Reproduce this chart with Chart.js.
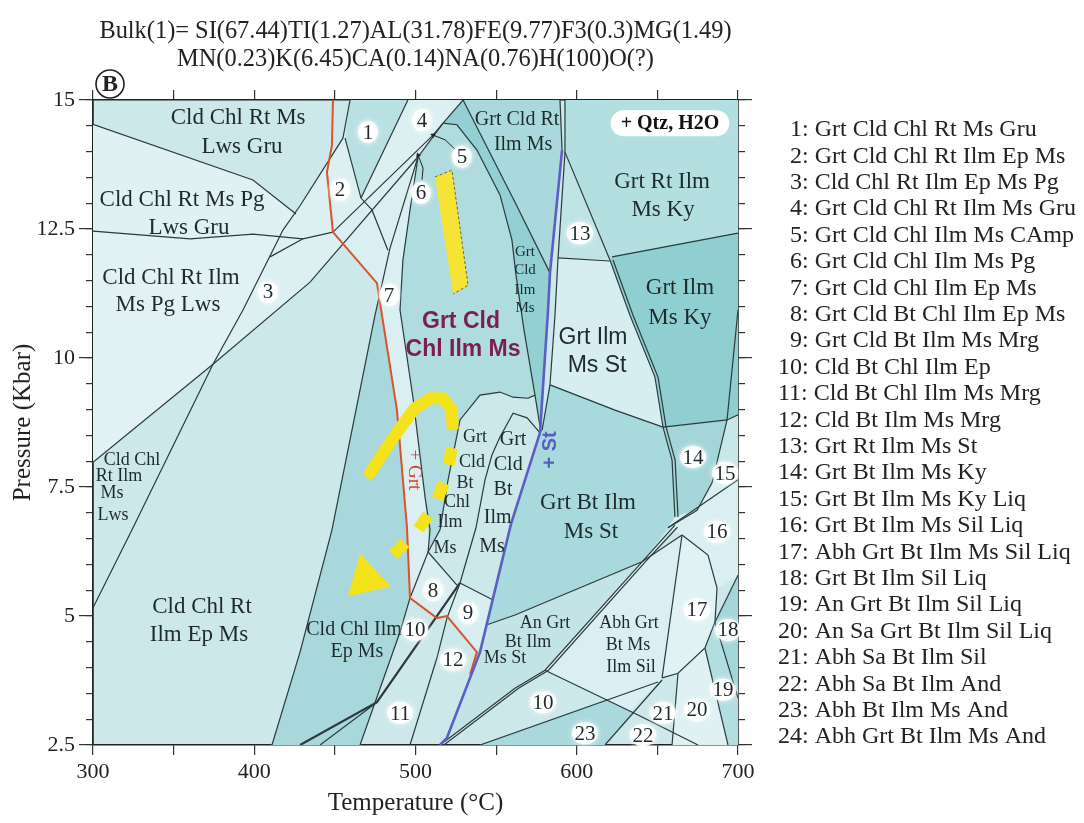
<!DOCTYPE html>
<html>
<head>
<meta charset="utf-8">
<script src="https://cdn.jsdelivr.net/npm/chart.js@4.4.1/dist/chart.umd.min.js"></script>
<style>
  html, body { margin: 0; padding: 0; background: #fff; }
  #wrap { width: 1084px; height: 823px; position: relative; }
</style>
</head>
<body>
<div id="wrap"><canvas id="pseudo"></canvas></div>
<script>
const SERIF = '"Liberation Serif", "Times New Roman", serif';
const SANS = '"Liberation Sans", Arial, sans-serif';

// axes
const tempMin = 300, tempMax = 700;
const presMin = 2.5, presMax = 15;
const tempLabels = [300, 400, 500, 600, 700];
const presLabels = [2.5, 5, 7.5, 10, 12.5, 15];

const titleLines = [
  'Bulk(1)= SI(67.44)TI(1.27)AL(31.78)FE(9.77)F3(0.3)MG(1.49)',
  'MN(0.23)K(6.45)CA(0.14)NA(0.76)H(100)O(?)'
];

const legendItems = [
  '1: Grt Cld Chl Rt Ms Gru', '2: Grt Cld Chl Rt Ilm Ep Ms', '3: Cld Chl Rt Ilm Ep Ms Pg',
  '4: Grt Cld Chl Rt Ilm Ms Gru', '5: Grt Cld Chl Ilm Ms CAmp', '6: Grt Cld Chl Ilm Ms Pg',
  '7: Grt Cld Chl Ilm Ep Ms', '8: Grt Cld Bt Chl Ilm Ep Ms', '9: Grt Cld Bt Ilm Ms Mrg',
  '10: Cld Bt Chl Ilm Ep', '11: Cld Bt Chl Ilm Ms Mrg', '12: Cld Bt Ilm Ms Mrg',
  '13: Grt Rt Ilm Ms St', '14: Grt Bt Ilm Ms Ky', '15: Grt Bt Ilm Ms Ky Liq',
  '16: Grt Bt Ilm Ms Sil Liq', '17: Abh Grt Bt Ilm Ms Sil Liq', '18: Grt Bt Ilm Sil Liq',
  '19: An Grt Bt Ilm Sil Liq', '20: An Sa Grt Bt Ilm Sil Liq', '21: Abh Sa Bt Ilm Sil',
  '22: Abh Sa Bt Ilm And', '23: Abh Bt Ilm Ms And', '24: Abh Grt Bt Ilm Ms And'
];

// ---- stability fields, [T (°C), P (kbar)] ----
const fieldLwsGru = [[300,14.53],[399.2,13.45],[425.9,12.79],[416.0,12.36],[399.2,12.40],[360.2,12.31],[300,12.46]];
const fieldPgLws = [[300,12.46],[360.2,12.31],[399.2,12.40],[416.0,12.36],[393.0,10.93],[374.4,9.88],[300,7.98]];
const fieldUpper = [[374.4,9.88],[393.0,10.93],[417.8,12.48],[428.4,12.95],[455.0,14.26],[459.4,15],[529.5,15],[517.1,14.55],[501.6,13.90],[434.6,11.47]];
const field1 = [[459.4,15],[495.3,15],[466.2,13.10],[456.3,14.26]];
const field7 = [[448.8,12.44],[476.1,11.45],[479.2,10.83],[488.5,8.99],[494.7,6.72],[496.6,5.35],[507.8,6.24],[509.0,6.32],[505.9,7.31],[498.4,9.24],[490.4,10.93],[492.2,11.90],[496.6,12.87],[501.6,13.90]];
const fieldEpMs = [[478.0,11.36],[479.2,10.83],[488.5,8.99],[494.7,6.72],[496.6,5.35],[490.4,4.69],[465.6,2.5],[411.0,2.5],[428.4,4.30],[448.2,6.67],[474.9,10.83]];
const fieldGrtCld = [[501.6,13.90],[517.1,14.55],[525.7,14.52],[538.1,14.03],[552.4,13.16],[559.8,12.29],[562.3,11.61],[567.3,10.54],[574.1,9.28],[569.8,9.22],[560.5,9.24],[552.4,9.34],[540.0,9.28],[527.6,8.80],[520.2,7.64],[515.2,6.67],[509.0,6.32],[505.9,7.31],[498.4,9.24],[490.4,10.93],[492.2,11.90],[496.6,12.87]];
const fieldCldRt = [[529.5,15],[589.6,15],[590.9,14.03],[583.4,11.65],[561.7,13.02]];
const fieldSliver = [[529.5,15],[561.7,13.02],[583.4,11.65],[582.2,10.93],[577.8,8.57],[574.1,9.28],[567.3,10.54],[562.3,11.61],[559.8,12.29],[552.4,13.16],[538.1,14.03],[525.7,14.52],[517.1,14.55]];
const field8 = [[507.8,6.24],[525.7,5.60],[519.5,5.00],[513.3,4.96],[496.6,5.35]];
const field9 = [[527.6,5.64],[548.1,5.31],[544.3,4.83],[538.1,4.30],[519.5,5.00]];
const fieldRtKy = [[592.7,15],[700,15],[700,12.42],[621.9,11.96],[620.6,11.90],[592.7,13.99]];
const field13 = [[592.7,13.99],[620.6,11.90],[588.4,11.94]];
const fieldIlmKy = [[621.9,11.96],[700,12.42],[700,8.90],[693.2,8.80],[653.5,8.66],[648.5,9.63],[633.0,10.83],[620.6,11.90]];
const fieldIlmSt = [[588.4,11.94],[620.6,11.90],[633.0,10.83],[648.5,9.63],[653.5,8.66],[623.7,8.99],[583.4,9.48],[586.5,10.83]];
const fieldBtSt = [[583.4,9.48],[623.7,8.99],[653.5,8.66],[659.1,8.02],[660.9,6.92],[656.6,6.71],[640.5,6.05],[561.7,5.02],[544.3,4.83],[559.2,6.78],[577.2,8.55],[578.5,8.60]];
const field14 = [[653.5,8.66],[693.2,8.80],[683.9,7.58],[674.6,7.05],[660.9,6.92],[659.1,8.02]];
const field15 = [[693.2,8.80],[700,8.90],[700,7.83],[683.9,7.58]];
const field16 = [[660.9,6.92],[674.6,7.05],[683.9,7.58],[700,7.83],[700,5.79],[687.0,5.54],[681.4,6.18],[665.3,6.57],[656.6,6.71]];
const fieldAnSt = [[544.3,4.83],[561.7,5.02],[640.5,6.05],[580.3,3.95],[561.7,3.60],[519.5,2.64],[540.0,4.30]];
const fieldAbhSil = [[580.3,3.95],[640.5,6.05],[665.3,6.57],[652.9,3.80],[633.0,3.16]];
const field17 = [[665.3,6.57],[681.4,6.18],[687.0,5.54],[685.7,4.88],[679.5,4.38],[662.8,3.89],[652.9,3.80]];
const field18 = [[685.7,4.88],[700,5.79],[700,3.41]];
const field19 = [[679.5,4.38],[685.7,4.88],[700,3.41],[700,2.5],[693.8,2.5]];
const field20 = [[662.8,3.89],[679.5,4.38],[693.8,2.5],[659.1,2.5]];
const field23 = [[540.0,2.5],[618.1,3.37],[635.5,3.12],[617.5,2.5]];

// ---- reaction lines ----
const lineL1 = [[300,14.53],[399.2,13.45],[425.9,12.79]];
const lineL2 = [[300,12.46],[360.2,12.31],[399.2,12.40],[430.2,12.31],[448.8,12.44]];
const lineL3 = [[300,5.16],[324.2,6.67],[374.4,9.88],[393.0,10.93],[417.8,12.48],[428.4,12.95],[455.0,14.26],[459.4,15]];
const lineL4 = [[300,7.98],[374.4,9.88],[434.6,11.47],[501.6,13.90],[517.1,14.55]];
const lineF1 = [[495.3,15],[466.2,13.10]];
const lineE = [[456.3,14.26],[466.2,13.10],[473.0,12.87],[482.9,12.09]];
const lineTri = [[409.8,11.96],[430.2,12.31]];
const lineB = [[448.8,12.44],[510.9,14.32],[517.1,14.55]];
const lineTopG = [[529.5,15],[517.1,14.55]];
const lineArc = [[517.1,14.55],[525.7,14.52],[538.1,14.03],[552.4,13.16],[559.8,12.29],[562.3,11.61],[567.3,10.54],[574.1,9.28],[577.8,8.57]];
const lineG = [[529.5,15],[561.7,13.02],[583.4,11.65]];
const lineStripL = [[501.6,13.90],[484.2,12.13],[474.9,10.83],[448.2,6.67],[428.4,4.30],[411.0,2.5]];
const lineBigL = [[501.6,13.90],[496.6,12.87],[492.2,11.90],[490.4,10.93],[498.4,9.24],[505.9,7.31],[509.0,6.67],[507.8,6.24]];
const lineOuterLoop = [[507.8,6.24],[515.2,6.67],[520.2,7.64],[527.6,8.80],[540.0,9.28],[552.4,9.34],[560.5,9.24],[569.8,9.22],[574.1,9.28]];
const lineInnerLoop = [[527.6,5.64],[537.5,6.71],[543.1,7.64],[547.4,8.12],[552.4,8.47],[560.5,8.93],[569.2,8.84],[577.2,8.55]];
const line8Top = [[507.8,6.24],[525.7,5.60]];
const line9Top = [[527.6,5.64],[548.1,5.31]];
const lineBtIn = [[507.8,6.24],[496.6,5.35],[490.4,4.69],[465.6,2.5]];
const line12L = [[527.6,5.64],[519.5,4.96],[513.3,4.19],[496.6,2.5]];
const lineLow = [[476.1,3.33],[440.8,2.5]];
const lineThick = [[527.6,5.64],[476.1,3.33],[428.4,2.5]];
const lineTopA = [[589.6,15],[590.9,14.03]];
const lineTopB = [[592.7,15],[592.7,13.99],[588.4,11.94],[586.5,10.83],[583.4,9.48],[578.5,8.60]];
const line13R = [[592.7,13.99],[620.6,11.90]];
const line13B = [[588.4,11.94],[620.6,11.88]];
const lineRtKyB = [[621.9,11.96],[700,12.42]];
const lineCurveA = [[620.6,11.90],[633.0,10.83],[648.5,9.63],[653.5,8.66],[659.1,8.02],[660.9,6.92]];
const lineCurveB = [[622.5,11.90],[634.9,10.83],[650.4,9.63],[655.4,8.66],[661.0,8.02],[662.8,6.92]];
const lineStB = [[583.4,9.48],[623.7,8.99],[653.5,8.66]];
const lineKyB = [[653.5,8.66],[693.2,8.80],[700,8.90]];
const lineR1 = [[700,10.93],[693.2,8.80],[683.9,7.58],[674.6,7.05],[656.6,6.71]];
const lineR2 = [[656.6,6.71],[700,7.64]];
const lineU = [[544.3,4.83],[561.7,5.02],[640.5,6.05],[665.3,6.57]];
const lineDA = [[515.2,2.5],[561.7,3.60],[580.3,3.95],[640.5,6.05],[660.9,6.76]];
const lineDB = [[517.6,2.5],[563.9,3.60],[582.5,3.95],[642.5,6.05],[662.4,6.72]];
const line17L = [[665.3,6.57],[652.9,3.80]];
const line17C = [[665.3,6.57],[681.4,6.18],[687.0,5.54],[685.7,4.88],[679.5,4.38],[662.8,3.89],[652.9,3.80]];
const line20L = [[662.8,3.89],[659.1,2.5]];
const line19L = [[679.5,4.38],[693.8,2.5]];
const line18A = [[685.7,4.88],[700,5.79]];
const line18B = [[685.7,4.88],[700,3.41]];
const lineN2 = [[580.3,3.95],[638.0,3.08],[675.2,2.5]];
const lineN1 = [[540.0,2.5],[650.4,3.72]];
const lineN3 = [[617.5,2.5],[652.9,3.76]];
const arrow5 = [[525.1,14.03],[518.3,14.23],[510.9,14.32]];
const arrow6 = [[504.0,13.45],[504.7,13.68],[501.6,13.93]];

const grtIn = [[448.8,15],[448.2,14.13],[445.1,13.60],[448.8,12.44],[476.1,11.45],[479.2,10.83],[488.5,8.99],[494.7,6.72],[496.6,5.35],[513.3,4.96],[519.5,5.00],[538.1,4.30],[533.8,3.86]];
const stIn = [[590.9,14.03],[583.4,11.65],[582.2,10.93],[577.2,8.55],[559.2,6.78],[540.0,4.30],[519.5,2.64],[515.2,2.5]];

// yellow P-T path and box
const ptBox = [[512.1,13.51],[522.6,13.64],[532.6,11.41],[523.3,11.24]];
const pathSolid = [[471.8,7.77],[481.1,8.22],[490.4,8.64],[499.7,9.03],[509.0,9.22],[517.1,9.22],[522.6,8.99]];
const pathDashed = [[522.6,8.95],[523.3,8.41],[519.5,7.73],[512.1,7.15],[501.6,6.67],[489.1,6.28],[479.2,5.99]];
const pathHead = [[465.6,6.20],[484.2,5.58],[458.1,5.39]];

// ---- field labels [text, T, P] ----
const namesLarge = [
  ['Cld Chl Rt Ms', 390.0, 14.65], ['Lws Gru', 392.4, 14.09],
  ['Cld Chl Rt Ms Pg', 355.2, 13.06], ['Lws Gru', 359.5, 12.52],
  ['Cld Chl Rt Ilm', 348.4, 11.55], ['Ms Pg Lws', 346.5, 11.03],
  ['Cld Chl Rt', 367.6, 5.17], ['Ilm Ep Ms', 365.7, 4.63],
  ['Grt Rt Ilm', 652.9, 13.41], ['Ms Ky', 653.5, 12.87],
  ['Grt Ilm', 664.0, 11.36], ['Ms Ky', 664.0, 10.78],
  ['Grt Bt Ilm', 607.0, 7.19], ['Ms St', 608.8, 6.63]
];
const namesMedium = [
  ['Grt Cld Rt', 563.0, 14.61], ['Ilm Ms', 566.7, 14.13],
  ['Cld Chl Ilm', 461.9, 4.73], ['Ep Ms', 463.7, 4.30],
  ['Grt', 560.5, 8.41], ['Cld', 557.5, 7.93], ['Bt', 554.3, 7.44], ['Ilm', 551.0, 6.90], ['Ms', 547.4, 6.34]
];
const namesSmall = [
  ['Cld Chl', 324.2, 8.02], ['Rt Ilm', 316.1, 7.71], ['Ms', 311.8, 7.38], ['Lws', 312.4, 6.96],
  ['An Grt', 580.3, 4.86], ['Bt Ilm', 569.8, 4.50], ['Ms St', 555.5, 4.19],
  ['Abh Grt', 632.4, 4.86], ['Bt Ms', 631.8, 4.44], ['Ilm Sil', 633.6, 4.01],
  ['Grt', 536.9, 8.47], ['Cld', 535.0, 7.98], ['Bt', 530.7, 7.58], ['Chl', 525.7, 7.21], ['Ilm', 521.4, 6.82], ['Ms', 518.3, 6.32]
];
const namesTiny = [['Grt', 567.9, 12.05], ['Cld', 567.9, 11.71], ['Ilm', 567.9, 11.32], ['Ms', 567.9, 10.97]];
const namesSans = [['Grt Ilm', 610.1, 10.39], ['Ms St', 612.6, 9.86]];
const namesBold = [['Grt Cld', 528.2, 10.70], ['Chl Ilm Ms', 529.5, 10.17]];
const fieldNumbers = [
  ['1', 470.5, 14.38], ['2', 453.2, 13.26], ['3', 408.5, 11.28], ['4', 504.0, 14.61],
  ['5', 528.8, 13.90], ['6', 503.4, 13.20], ['7', 483.6, 11.22], ['8', 510.9, 5.50],
  ['9', 532.6, 5.06], ['10', 499.7, 4.73], ['10', 579.1, 3.33], ['11', 490.4, 3.12],
  ['12', 523.3, 4.15], ['13', 602.0, 12.42], ['14', 672.1, 8.08], ['15', 691.9, 7.77],
  ['16', 687.0, 6.63], ['17', 674.6, 5.12], ['18', 693.8, 4.73], ['19', 690.7, 3.57],
  ['20', 674.6, 3.18], ['21', 653.5, 3.12], ['22', 641.1, 2.69], ['23', 605.1, 2.73]
];
const noteQtz = ['+ Qtz, H2O', 657.8, 14.55];
const noteGrt = ['+ Grt', 499.1, 7.83];
const noteSt = ['+ St', 584.0, 8.22];

// ---- styling ----
const areaStyles = [
  [fieldLwsGru, '#dff1f3'], [fieldPgLws, '#e2f2f4'], [fieldUpper, '#dcf0f2'], [field1, '#b9e1e3'],
  [field7, '#d9eff1'], [fieldEpMs, '#a8d8db'], [fieldGrtCld, '#afdcdf'], [fieldCldRt, '#a9d9dc'],
  [fieldSliver, '#93d0d3'], [field8, '#d8eef0'], [field9, '#d8eef0'], [fieldRtKy, '#b3dfe1'],
  [field13, '#c0e4e6'], [fieldIlmKy, '#8fcfd2'], [fieldIlmSt, '#d7eef0'], [fieldBtSt, '#a8d9dc'],
  [field14, '#a4d6d9'], [field15, '#c8e7e9'], [field16, '#d9eff1'], [fieldAnSt, '#c3e4e6'],
  [fieldAbhSil, '#d9eff1'], [field17, '#e0f2f4'], [field18, '#a3d6d9'], [field19, '#b3dee1'],
  [field20, '#dff1f3'], [field23, '#a9d9dc']
];
const blackLines = [
  lineL1, lineL2, lineL3, lineL4, lineF1, lineE, lineTri, lineB, lineTopG, lineArc, lineG,
  lineStripL, lineBigL, lineOuterLoop, lineInnerLoop, line8Top, line9Top, lineBtIn, line12L,
  lineLow, lineTopA, lineTopB, line13R, line13B, lineRtKyB, lineCurveA, lineCurveB, lineStB,
  lineKyB, lineR1, lineR2, lineU, lineDA, lineDB, line17L, line17C, line20L, line19L,
  line18A, line18B, lineN2, lineN1, lineN3
];

const toXY = arr => arr.map(([x, y]) => ({ x, y }));
const datasets = [];
let seq = 0;
function addArea(points, color, extra) {
  datasets.push(Object.assign({
    data: toXY(points), showLine: true, fill: 'shape', backgroundColor: color,
    borderColor: color, borderWidth: 0.8, pointRadius: 0, order: 1000 - seq++
  }, extra || {}));
}
function addLine(points, color, width, extra) {
  datasets.push(Object.assign({
    data: toXY(points), showLine: true, fill: false, borderColor: color,
    borderWidth: width, pointRadius: 0, order: 1000 - seq++
  }, extra || {}));
}

areaStyles.forEach(([pts, c]) => addArea(pts, c));
addArea(ptBox, '#f6e434', { borderColor: '#6b6b3a', borderWidth: 1, borderDash: [3, 2] });
blackLines.forEach(pts => addLine(pts, '#2c3a3c', 1.2));
addLine(lineThick, '#2c3a3c', 2.2);
addLine(arrow5, '#222', 1, { pointRadius: [0, 0, 3], pointStyle: 'triangle', rotation: -70, pointBackgroundColor: '#222', pointBorderWidth: 0 });
addLine(arrow6, '#222', 1, { pointRadius: [0, 0, 3], pointStyle: 'triangle', rotation: -20, pointBackgroundColor: '#222', pointBorderWidth: 0 });
addLine(grtIn, '#d9532c', 2);
addLine(stIn, '#5b5fc4', 2.6);
addLine(pathSolid, '#f4e21a', 12, { borderCapStyle: 'round', borderJoinStyle: 'round' });
addLine(pathDashed, '#f4e21a', 12, { borderDash: [17, 19] });
addArea(pathHead, '#f4e21a');

// ---- plugins ----
const basePlugin = {
  id: 'base',
  beforeDraw(chart) {
    const { ctx, chartArea: a } = chart;
    ctx.save();
    ctx.fillStyle = '#fff';
    ctx.fillRect(0, 0, chart.width, chart.height);
    ctx.fillStyle = '#cde8ea';
    ctx.fillRect(a.left, a.top, a.right - a.left, a.bottom - a.top);
    ctx.restore();
  }
};

const textPlugin = {
  id: 'fieldText',
  afterDatasetsDraw(chart) {
    const { ctx, scales } = chart;
    const sx = v => scales.x.getPixelForValue(v);
    const sy = v => scales.y.getPixelForValue(v);
    const put = (list, font, color) => {
      ctx.font = font;
      ctx.fillStyle = color;
      list.forEach(([t, a, b]) => ctx.fillText(t, sx(a), sy(b)));
    };
    ctx.save();
    ctx.textAlign = 'center';
    ctx.textBaseline = 'middle';
    put(namesLarge, '23px ' + SERIF, '#1f2a2c');
    put(namesMedium, '20px ' + SERIF, '#1f2a2c');
    put(namesSmall, '18px ' + SERIF, '#1f2a2c');
    put(namesTiny, '15px ' + SERIF, '#1f2a2c');
    put(namesSans, '23px ' + SANS, '#1f2a2c');
    put(namesBold, 'bold 23px ' + SANS, '#7b1f4b');

    // numbered fields with white halo
    ctx.font = '21px ' + SERIF;
    fieldNumbers.forEach(([t, a, b]) => {
      const x = sx(a), y = sy(b);
      ctx.save();
      ctx.fillStyle = 'rgba(255,255,255,0.92)';
      ctx.shadowColor = '#fff';
      ctx.shadowBlur = 5;
      ctx.beginPath();
      ctx.ellipse(x, y, t.length > 1 ? 13 : 10, 11, 0, 0, Math.PI * 2);
      ctx.fill();
      ctx.restore();
      ctx.fillStyle = '#1f2a2c';
      ctx.fillText(t, x, y + 1);
    });

    // + Qtz, H2O pill
    ctx.font = 'bold 20px ' + SERIF;
    const qx = sx(noteQtz[1]), qy = sy(noteQtz[2]);
    const qw = ctx.measureText(noteQtz[0]).width + 20;
    ctx.fillStyle = '#fff';
    ctx.beginPath();
    ctx.roundRect(qx - qw / 2, qy - 13, qw, 26, 13);
    ctx.fill();
    ctx.fillStyle = '#111';
    ctx.fillText(noteQtz[0], qx, qy + 1);

    // + Grt (red, reading downwards)
    ctx.save();
    ctx.translate(sx(noteGrt[1]), sy(noteGrt[2]));
    ctx.rotate(Math.PI / 2);
    ctx.font = '19px ' + SERIF;
    ctx.fillStyle = '#d2452a';
    ctx.fillText(noteGrt[0], 0, 0);
    ctx.restore();

    // + St (blue, reading upwards)
    ctx.save();
    ctx.translate(sx(noteSt[1]), sy(noteSt[2]));
    ctx.rotate(-Math.PI / 2);
    ctx.font = 'bold 20px ' + SANS;
    ctx.fillStyle = '#5a5cc0';
    ctx.fillText(noteSt[0], 0, 0);
    ctx.restore();
    ctx.restore();
  },
  afterDraw(chart) {
    const { ctx, chartArea: a } = chart;
    ctx.save();
    ctx.fillStyle = '#222';
    ctx.textAlign = 'center';
    ctx.textBaseline = 'middle';
    ctx.font = '24.4px ' + SERIF;
    const cx = (a.left + a.right) / 2;
    ctx.fillText(titleLines[0], cx, 32);
    ctx.fillText(titleLines[1], cx, 60);

    // panel letter
    ctx.lineWidth = 1.6;
    ctx.strokeStyle = '#222';
    ctx.beginPath();
    ctx.arc(110, 84, 14, 0, Math.PI * 2);
    ctx.stroke();
    ctx.font = 'bold 24px ' + SERIF;
    ctx.fillText('B', 110, 85);

    // assemblage list
    ctx.textAlign = 'left';
    ctx.font = '24px ' + SERIF;
    legendItems.forEach((t, i) => {
      ctx.fillText(t, i < 9 ? 790 : 778, 130 + i * 26.4);
    });
    ctx.restore();
  }
};

const tickFont = { family: SERIF, size: 22 };
const gridBase = { drawOnChartArea: false, color: '#333', lineWidth: 1.2 };
const borderBase = { display: true, color: '#222', width: 1.5 };

new Chart(document.getElementById('pseudo'), {
  type: 'scatter',
  data: { datasets },
  options: {
    responsive: true,
    maintainAspectRatio: false,
    animation: false,
    devicePixelRatio: 1,
    layout: { padding: { left: 0, right: 330, top: 0, bottom: 0 } },
    plugins: { legend: { display: false }, tooltip: { enabled: false }, title: { display: false } },
    events: [],
    scales: {
      x: {
        type: 'linear', position: 'bottom', min: tempMin, max: tempMax,
        ticks: { stepSize: 50, autoSkip: false, maxRotation: 0, padding: 4, color: '#222', font: tickFont,
                 callback: v => tempLabels.includes(v) ? String(v) : '' },
        grid: Object.assign({ tickLength: 10 }, gridBase),
        border: borderBase,
        title: { display: true, text: 'Temperature (°C)', color: '#222', font: { family: SERIF, size: 25 }, padding: { top: 0, bottom: 5 } },
        afterFit: s => { s.height = 78; }
      },
      x2: {
        type: 'linear', position: 'top', min: tempMin, max: tempMax,
        ticks: { stepSize: 50, display: false, autoSkip: false },
        grid: Object.assign({ tickLength: 10 }, gridBase),
        border: borderBase,
        afterFit: s => { s.height = 100; }
      },
      y: {
        type: 'linear', position: 'left', min: presMin, max: presMax, weight: 1,
        ticks: { stepSize: 2.5, autoSkip: false, padding: 4, color: '#222', font: tickFont,
                 callback: v => presLabels.includes(v) ? String(v) : '' },
        grid: Object.assign({ tickLength: 14 }, gridBase),
        border: borderBase,
        title: { display: true, text: 'Pressure (Kbar)', color: '#222', font: { family: SERIF, size: 25 }, padding: { top: 8, bottom: 0 } },
        afterFit: s => { s.width = 93; }
      },
      ym: {
        type: 'linear', position: 'left', min: presMin, max: presMax, weight: 0,
        ticks: { stepSize: 0.5, display: false, autoSkip: false },
        grid: Object.assign({ tickLength: 7 }, gridBase),
        border: borderBase,
        afterFit: s => { s.width = 0; }
      },
      y2m: {
        type: 'linear', position: 'right', min: presMin, max: presMax, weight: 0,
        ticks: { stepSize: 0.5, display: false, autoSkip: false },
        grid: Object.assign({ tickLength: 7 }, gridBase),
        border: borderBase,
        afterFit: s => { s.width = 0; }
      },
      y2: {
        type: 'linear', position: 'right', min: presMin, max: presMax, weight: 1,
        ticks: { stepSize: 2.5, display: false, autoSkip: false },
        grid: Object.assign({ tickLength: 14 }, gridBase),
        border: borderBase,
        afterFit: s => { s.width = 16; }
      }
    }
  },
  plugins: [basePlugin, textPlugin]
});
</script>
</body>
</html>
